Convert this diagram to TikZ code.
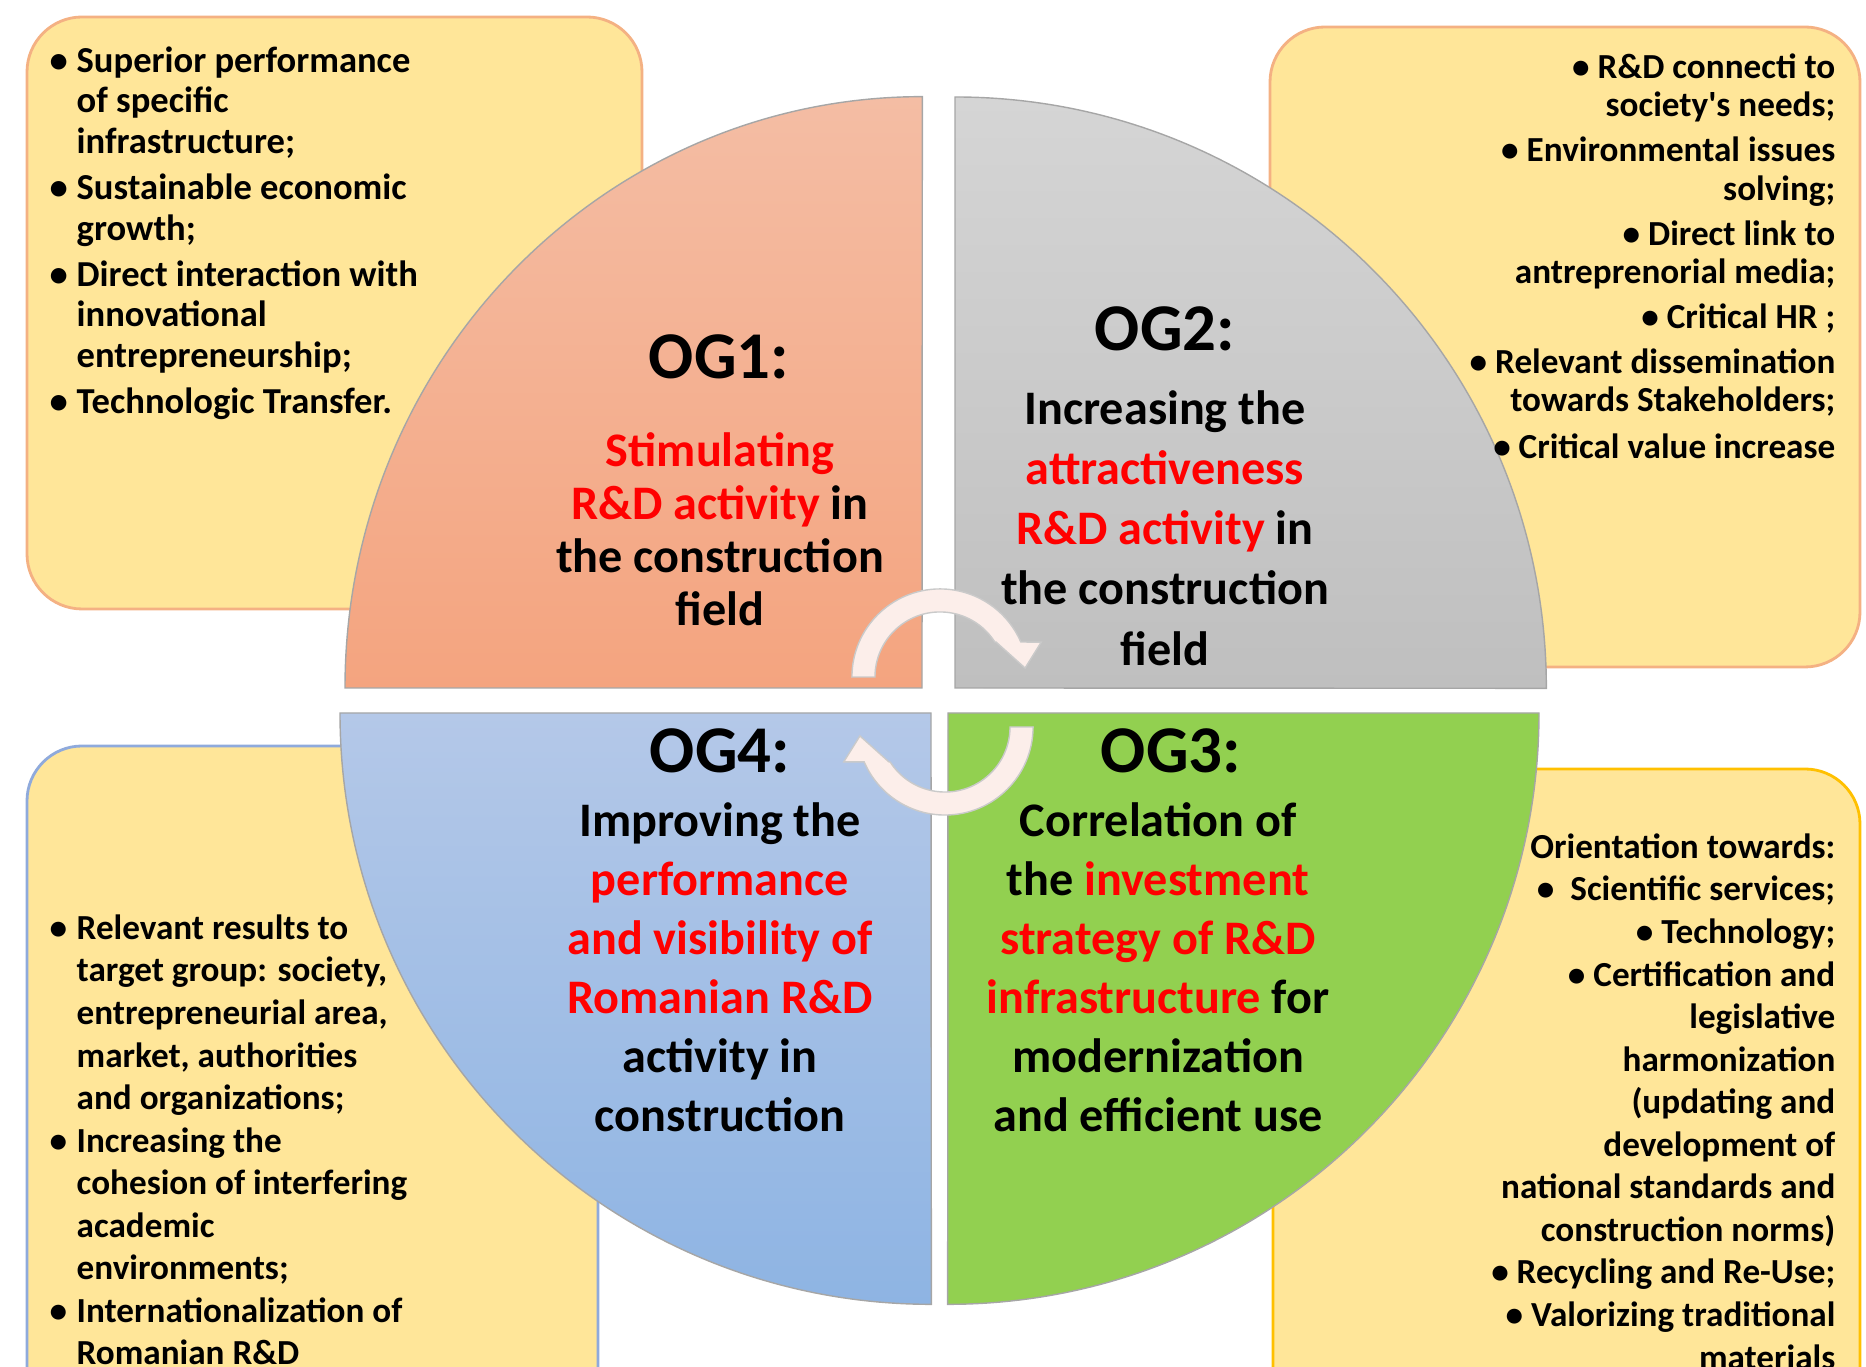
\documentclass[tikz,border=0pt]{standalone}
\usepackage{fontspec}
\setmainfont{Carlito}
\usepackage{xcolor}
\usepackage{tikz}

\definecolor{notefill}{HTML}{FFE699}
\definecolor{notepeach}{HTML}{F4B183}
\definecolor{noteblue}{HTML}{8FAADC}
\definecolor{notegold}{HTML}{FFC000}
\definecolor{og1top}{HTML}{F4BDA4}
\definecolor{og1bot}{HTML}{F4A47F}
\definecolor{og2top}{HTML}{D5D5D5}
\definecolor{og2bot}{HTML}{BFBFBF}
\definecolor{og3fill}{HTML}{92D050}
\definecolor{og4top}{HTML}{B4C8E8}
\definecolor{og4bot}{HTML}{8EB4E3}
\definecolor{arrowfill}{HTML}{FCEEEA}
\definecolor{edge}{HTML}{A6A6A6}

\begin{document}
\begin{tikzpicture}[
x=0.01cm, y=0.01cm,
note/.style={rounded corners=0.55cm, fill=notefill, line width=0.8pt},
goal/.style={draw=edge, line width=0.4pt},
cyclearrow/.style={fill=arrowfill, draw=edge!60, line width=0.4pt},
title/.style={inner sep=0pt, font=\fontsize{19}{22}\selectfont\bfseries},
goaltext/.style={inner sep=0pt, anchor=north, align=center, font=\fontsize{13.7}{16.8}\selectfont\bfseries},
bullets/.style={inner sep=0pt, font=\fontsize{10}{12.1}\selectfont\bfseries}
]
\useasboundingbox (0,0) rectangle (1866,1367);
\clip (0,0) rectangle (1866,1367);

\draw[note, draw=notepeach] (27,758) rectangle (642,1350);
\draw[note, draw=notepeach] (1270,700) rectangle (1860,1340);
\draw[note, draw=noteblue] (27,-80) rectangle (598,621);
\draw[note, draw=notegold] (1273,-80) rectangle (1860,598);

\path[goal, top color=og1top, bottom color=og1bot] (922,679) -- (345,679) arc[start angle=180, end angle=90, x radius=5.77cm, y radius=5.91cm] -- cycle;
\path[goal, top color=og2top, bottom color=og2bot] (955,679) -- (955,1270) arc[start angle=90, end angle=0, radius=5.91cm] -- cycle;
\path[goal, top color=og4top, bottom color=og4bot] (931,654) -- (340,654) arc[start angle=180, end angle=270, radius=5.91cm] -- cycle;
\path[goal, fill=og3fill] (948,654) -- (1539,654) arc[start angle=0, end angle=-90, radius=5.91cm] -- cycle;

\begin{scope}[shift={(940,690)}]
\filldraw[cyclearrow] (180:0.88cm) arc[start angle=180, end angle=23.4, radius=0.88cm] -- (19:1.07cm) -- (6:0.855cm) -- (32:0.66cm) -- (32.6:0.65cm) arc[start angle=32.6, end angle=180, radius=0.65cm] -- cycle;
\end{scope}
\begin{scope}[shift={(945,640)}, rotate=180]
\filldraw[cyclearrow] (180:0.88cm) arc[start angle=180, end angle=23.4, radius=0.88cm] -- (19:1.07cm) -- (6:0.855cm) -- (32:0.66cm) -- (32.6:0.65cm) arc[start angle=32.6, end angle=180, radius=0.65cm] -- cycle;
\end{scope}

\node[title](og1_title) at (719,1010){OG1:};
\node[title](og2_title) at (1165,1038){OG2:};
\node[title](og4_title) at (720,616){OG4:};
\node[title](og3_title) at (1171,616){OG3:};

\node[goaltext, font=\fontsize{13.7}{15.1}\selectfont\bfseries](og1_text) at (720,935){\textcolor{red}{Stimulating}\\\textcolor{red}{R\&D activity} in\\the construction\\field};
\node[goaltext, font=\fontsize{13.7}{17.1}\selectfont\bfseries](og2_text) at (1165,977){Increasing the\\\textcolor{red}{attractiveness}\\\textcolor{red}{R\&D activity} in\\the construction\\field};
\node[goaltext](og4_text) at (720,565){Improving the\\\textcolor{red}{performance}\\\textcolor{red}{and visibility of}\\\textcolor{red}{Romanian R\&D}\\activity in\\construction};
\node[goaltext](og3_text) at (1158,565){Correlation of\\the \textcolor{red}{investment}\\\textcolor{red}{strategy of R\&D}\\\textcolor{red}{infrastructure} for\\modernization\\and efficient use};

\node[bullets, anchor=north west, align=left, font=\fontsize{10.4}{11.5}\selectfont\bfseries](tl_text) at (49,1321){%
\makebox[0.27cm][l]{\textbullet}Superior performance\\
\hspace*{0.27cm}of specific\\
\hspace*{0.27cm}infrastructure;\\[1.7pt]
\makebox[0.27cm][l]{\textbullet}Sustainable economic\\
\hspace*{0.27cm}growth;\\[1.7pt]
\makebox[0.27cm][l]{\textbullet}Direct interaction with\\
\hspace*{0.27cm}innovational\\
\hspace*{0.27cm}entrepreneurship;\\[1.7pt]
\makebox[0.27cm][l]{\textbullet}Technologic Transfer.};

\node[bullets, anchor=north east, align=right, font=\fontsize{10}{10.95}\selectfont\bfseries](tr_text) at (1836,1314){%
\textbullet\ R\&D connecti to\\
society\textquotesingle s needs;\\[1.8pt]
\textbullet\ Environmental issues\\
solving;\\[1.8pt]
\textbullet\ Direct link to\\
antreprenorial media;\\[1.8pt]
\textbullet\ Critical HR ;\\[1.8pt]
\textbullet\ Relevant dissemination\\
towards Stakeholders;\\[2.2pt]
\textbullet\ Critical value increase};

\node[bullets, anchor=north west, align=left](bl_text) at (49,453){%
\makebox[0.27cm][l]{\textbullet}Relevant results to\\
\hspace*{0.27cm}target group: society,\\
\hspace*{0.27cm}entrepreneurial area,\\
\hspace*{0.27cm}market, authorities\\
\hspace*{0.27cm}and organizations;\\
\makebox[0.27cm][l]{\textbullet}Increasing the\\
\hspace*{0.27cm}cohesion of interfering\\
\hspace*{0.27cm}academic\\
\hspace*{0.27cm}environments;\\
\makebox[0.27cm][l]{\textbullet}Internationalization of\\
\hspace*{0.27cm}Romanian R\&D};

\node[bullets, anchor=north east, align=right](br_text) at (1836,534){%
Orientation towards:\\
\textbullet\ \ Scientific services;\\
\textbullet\ Technology;\\
\textbullet\ Certification and\\
legislative\\
harmonization\\
(updating and\\
development of\\
national standards and\\
construction norms)\\
\textbullet\ Recycling and Re-Use;\\
\textbullet\ Valorizing traditional\\
materials};

\end{tikzpicture}
\end{document}
